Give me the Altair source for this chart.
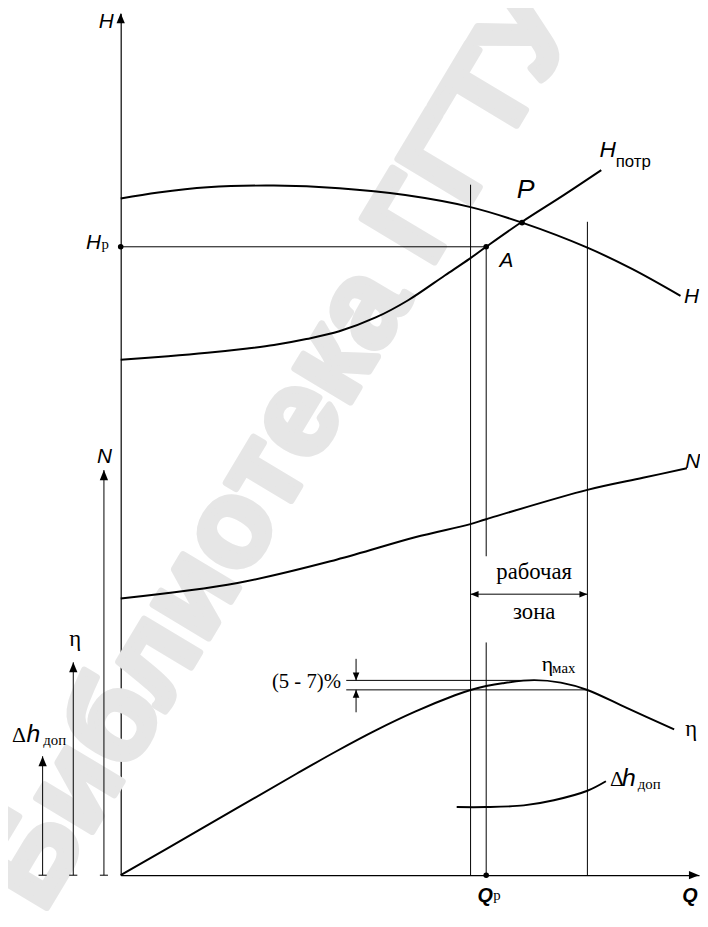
import altair as alt
import pandas as pd

# Coordinates: Q runs 0..100 along the flow axis, V runs 0..100 up the ordinate axis
# ---- characteristic curves
H_Q = [0, 6.5, 15.0, 26.5, 37.8, 49.2, 60.5, 69.4, 80.7, 88.5, 96.8]
H_V = [78.5, 79.2, 79.8, 80.0, 79.7, 78.9, 77.5, 75.7, 72.8, 70.3, 67.2]
HP_Q = [0, 8.2, 15.0, 21.9, 26.5, 32.1, 37.8, 44.1, 49.7, 56.1, 60.3, 63.2, 69.4, 76.6, 83.1]
HP_V = [59.8, 60.2, 60.6, 61.1, 61.5, 62.2, 63.1, 64.7, 66.7, 69.6, 71.5, 72.9, 75.8, 78.9, 81.8]
N_Q = [0, 20.2, 37.3, 50.9, 60.3, 63.2, 80.7, 90.3, 97.9]
N_V = [32.1, 33.9, 36.6, 39.2, 40.7, 41.3, 44.7, 46.1, 47.2]
ETA_Q = [0, 13.3, 30.4, 37.3, 44.1, 50.9, 57.8, 60.5, 63.2, 66.0, 71.5, 76.1, 80.7, 87.4, 95.7]
ETA_V = [0, 5.14, 11.77, 14.38, 16.8, 18.97, 20.87, 21.49, 21.94, 22.27, 22.63, 22.34, 21.49, 19.43, 16.91]
DH_Q = [58.1, 63.2, 69.7, 74.9, 80.7, 83.9]
DH_V = [7.9, 7.9, 8.1, 8.7, 9.8, 10.9]

# ---- straight construction segments (q, v) -> (q2, v2)
SEG_Q = [0, 60.5, 80.7, 63.2, 63.2, 39.0, 39.0, 60.5, 40.7, 40.7, -2.9, -8.2, -13.5, -3.6, -8.9, -14.2]
SEG_V = [72.9, 0, 0, 37.0, 0, 22.6, 21.5, 32.6, 25.1, 18.9, 0, 0, 0, 0, 0, 0]
SEG_Q2 = [63.2, 60.5, 80.7, 63.2, 63.2, 71.5, 80.7, 80.7, 40.7, 40.7, -2.9, -8.2, -13.5, -2.2, -7.5, -12.8]
SEG_V2 = [72.9, 80.1, 75.8, 72.9, 27.0, 22.6, 21.5, 32.6, 22.6, 21.5, 47.0, 24.7, 13.8, 0, 0, 0]

# ---- arrow heads (tip position, direction in degrees)
ARR_Q = [0, 100, -2.9, -8.2, -13.5]
ARR_V = [100, 0, 47.0, 24.7, 13.8]
ARR_A = [0, 90, 0, 0, 0]
SARR_Q = [60.5, 80.7, 40.7, 40.7]
SARR_V = [32.6, 32.6, 22.6, 21.5]
SARR_A = [270, 90, 180, 0]

# ---- marked points: Hp, A, P, Qp
DOT_Q = [0, 63.2, 69.4, 63.2]
DOT_V = [72.9, 72.9, 75.7, 0]

# ---- labels
IT_T = ["H", "H", "H", "N", "N", "A"]
IT_Q = [-3.8, -6.0, 97.4, 97.6, -4.1, 65.5]
IT_V = [98.3, 72.7, 66.4, 47.2, 47.8, 70.6]
IT2_T = ["H"]
IT2_Q = [82.8]
IT2_V = [83.3]
HH_T = ["h", "h"]
HH_Q = [-16.3, 86.7]
HH_V = [15.4, 10.3]
P_T = ["P"]
P_Q = [68.5]
P_V = [78.6]
QL_T = ["Q", "Q"]
QL_Q = [97.1, 61.7]
QL_V = [-3.1, -3.1]
SER_T = ["η", "η"]
SER_Q = [-8.9, 97.6]
SER_V = [26.6, 16.1]
SER2_T = ["η", "Δ", "Δ"]
SER2_Q = [72.8, -18.8, 84.6]
SER2_V = [23.7, 15.4, 10.3]
SUB_T = ["мах", "доп", "доп", "р", "р"]
SUB_Q = [74.6, -13.4, 89.4, -3.3, 64.4]
SUB_V = [23.4, 15.1, 10.0, 72.6, -2.9]
PCT_T = ["(5 - 7)%"]
PCT_Q = [38.1]
PCT_V = [21.7]
ZONE_T = ["рабочая", "зона"]
ZONE_Q = [71.5, 71.5]
ZONE_V = [34.4, 29.7]
POTR_T = ["потр"]
POTR_Q = [85.6]
POTR_V = [82.1]
WM_T = ["Библиотека ГГТУ"]
WM_Q = [27.5]
WM_V = [49.5]

SANS = "Liberation Sans, Arial, DejaVu Sans, sans-serif"
SERIF = "Liberation Serif, Times New Roman, DejaVu Serif, serif"

XS = alt.Scale(domain=[0, 100], nice=False, zero=False)
YS = alt.Scale(domain=[0, 100], nice=False, zero=False)
AX = alt.Axis(title=None, labels=False, ticks=False, grid=False, domain=True,
              domainColor="black", domainWidth=1.2)


def X():
    return alt.X("q:Q", scale=XS, axis=AX)


def Y():
    return alt.Y("v:Q", scale=YS, axis=AX)


def tdf(t, q, v):
    return pd.DataFrame({"t": t, "q": q, "v": v})


def text_layer(t, q, v, **kw):
    base = dict(align="left", baseline="alphabetic", color="black")
    base.update(kw)
    return alt.Chart(tdf(t, q, v)).mark_text(**base).encode(x=X(), y=Y(), text="t:N")


curves = []
for name, qs, vs in [("H", H_Q, H_V), ("Hpotr", HP_Q, HP_V), ("N", N_Q, N_V),
                     ("eta", ETA_Q, ETA_V), ("dh", DH_Q, DH_V)]:
    curves.append(pd.DataFrame({"c": name, "q": qs, "v": vs, "i": range(len(qs))}))
curve_df = pd.concat(curves, ignore_index=True)

seg_df = pd.DataFrame({"q": SEG_Q, "v": SEG_V, "q2": SEG_Q2, "v2": SEG_V2})
arr_df = pd.DataFrame({"q": ARR_Q, "v": ARR_V, "a": ARR_A})
sarr_df = pd.DataFrame({"q": SARR_Q, "v": SARR_V, "a": SARR_A})
dot_df = pd.DataFrame({"q": DOT_Q, "v": DOT_V})

ARROW = "M0,0L0.7,1.7L-0.7,1.7Z"

watermark = text_layer(WM_T, WM_Q, WM_V, align="center", baseline="middle",
                       font=SANS, fontWeight="bold", fontSize=124,
                       angle=301, color="#e6e6e6", stroke="#e6e6e6", strokeWidth=7,
                       strokeJoin="round")

lines = alt.Chart(curve_df).mark_line(color="black", strokeWidth=2, interpolate="catmull-rom").encode(
    x=X(), y=Y(), detail="c:N", order="i:Q")

segs = alt.Chart(seg_df).mark_rule(color="black", strokeWidth=1).encode(
    x=X(), y=Y(), x2="q2:Q", y2="v2:Q")

heads = alt.Chart(arr_df).mark_point(shape=ARROW, filled=True, size=144, color="black",
                                     opacity=1, strokeWidth=0).encode(
    x=X(), y=Y(), angle=alt.Angle("a:Q", scale=None))

sheads = alt.Chart(sarr_df).mark_point(shape=ARROW, filled=True, size=90, color="black",
                                       opacity=1, strokeWidth=0).encode(
    x=X(), y=Y(), angle=alt.Angle("a:Q", scale=None))

dots = alt.Chart(dot_df).mark_circle(color="black", size=32, opacity=1).encode(x=X(), y=Y())

labels = [
    text_layer(IT_T, IT_Q, IT_V, font=SANS, fontStyle="italic", fontSize=21),
    text_layer(IT2_T, IT2_Q, IT2_V, font=SANS, fontStyle="italic", fontSize=23),
    text_layer(HH_T, HH_Q, HH_V, font=SANS, fontStyle="italic", fontSize=25),
    text_layer(P_T, P_Q, P_V, font=SANS, fontStyle="italic", fontSize=27),
    text_layer(QL_T, QL_Q, QL_V, font=SANS, fontStyle="italic", fontWeight="bold", fontSize=20),
    text_layer(SER_T, SER_Q, SER_V, font=SERIF, fontSize=23),
    text_layer(SER2_T, SER2_Q, SER2_V, font=SERIF, fontSize=22),
    text_layer(SUB_T, SUB_Q, SUB_V, font=SERIF, fontSize=15),
    text_layer(PCT_T, PCT_Q, PCT_V, font=SERIF, fontSize=21, align="right"),
    text_layer(ZONE_T, ZONE_Q, ZONE_V, font=SERIF, fontSize=23, align="center"),
    text_layer(POTR_T, POTR_Q, POTR_V, font=SANS, fontSize=17),
]

chart = alt.layer(watermark, segs, lines, heads, sheads, dots, *labels).properties(
    width=585, height=872,
    padding={"left": 114, "top": 0, "right": 1, "bottom": 33},
    autosize=alt.AutoSizeParams(type="none"),
).configure_view(strokeWidth=0)

chart.save("out.html", embed_options={"renderer": "svg", "actions": False})
